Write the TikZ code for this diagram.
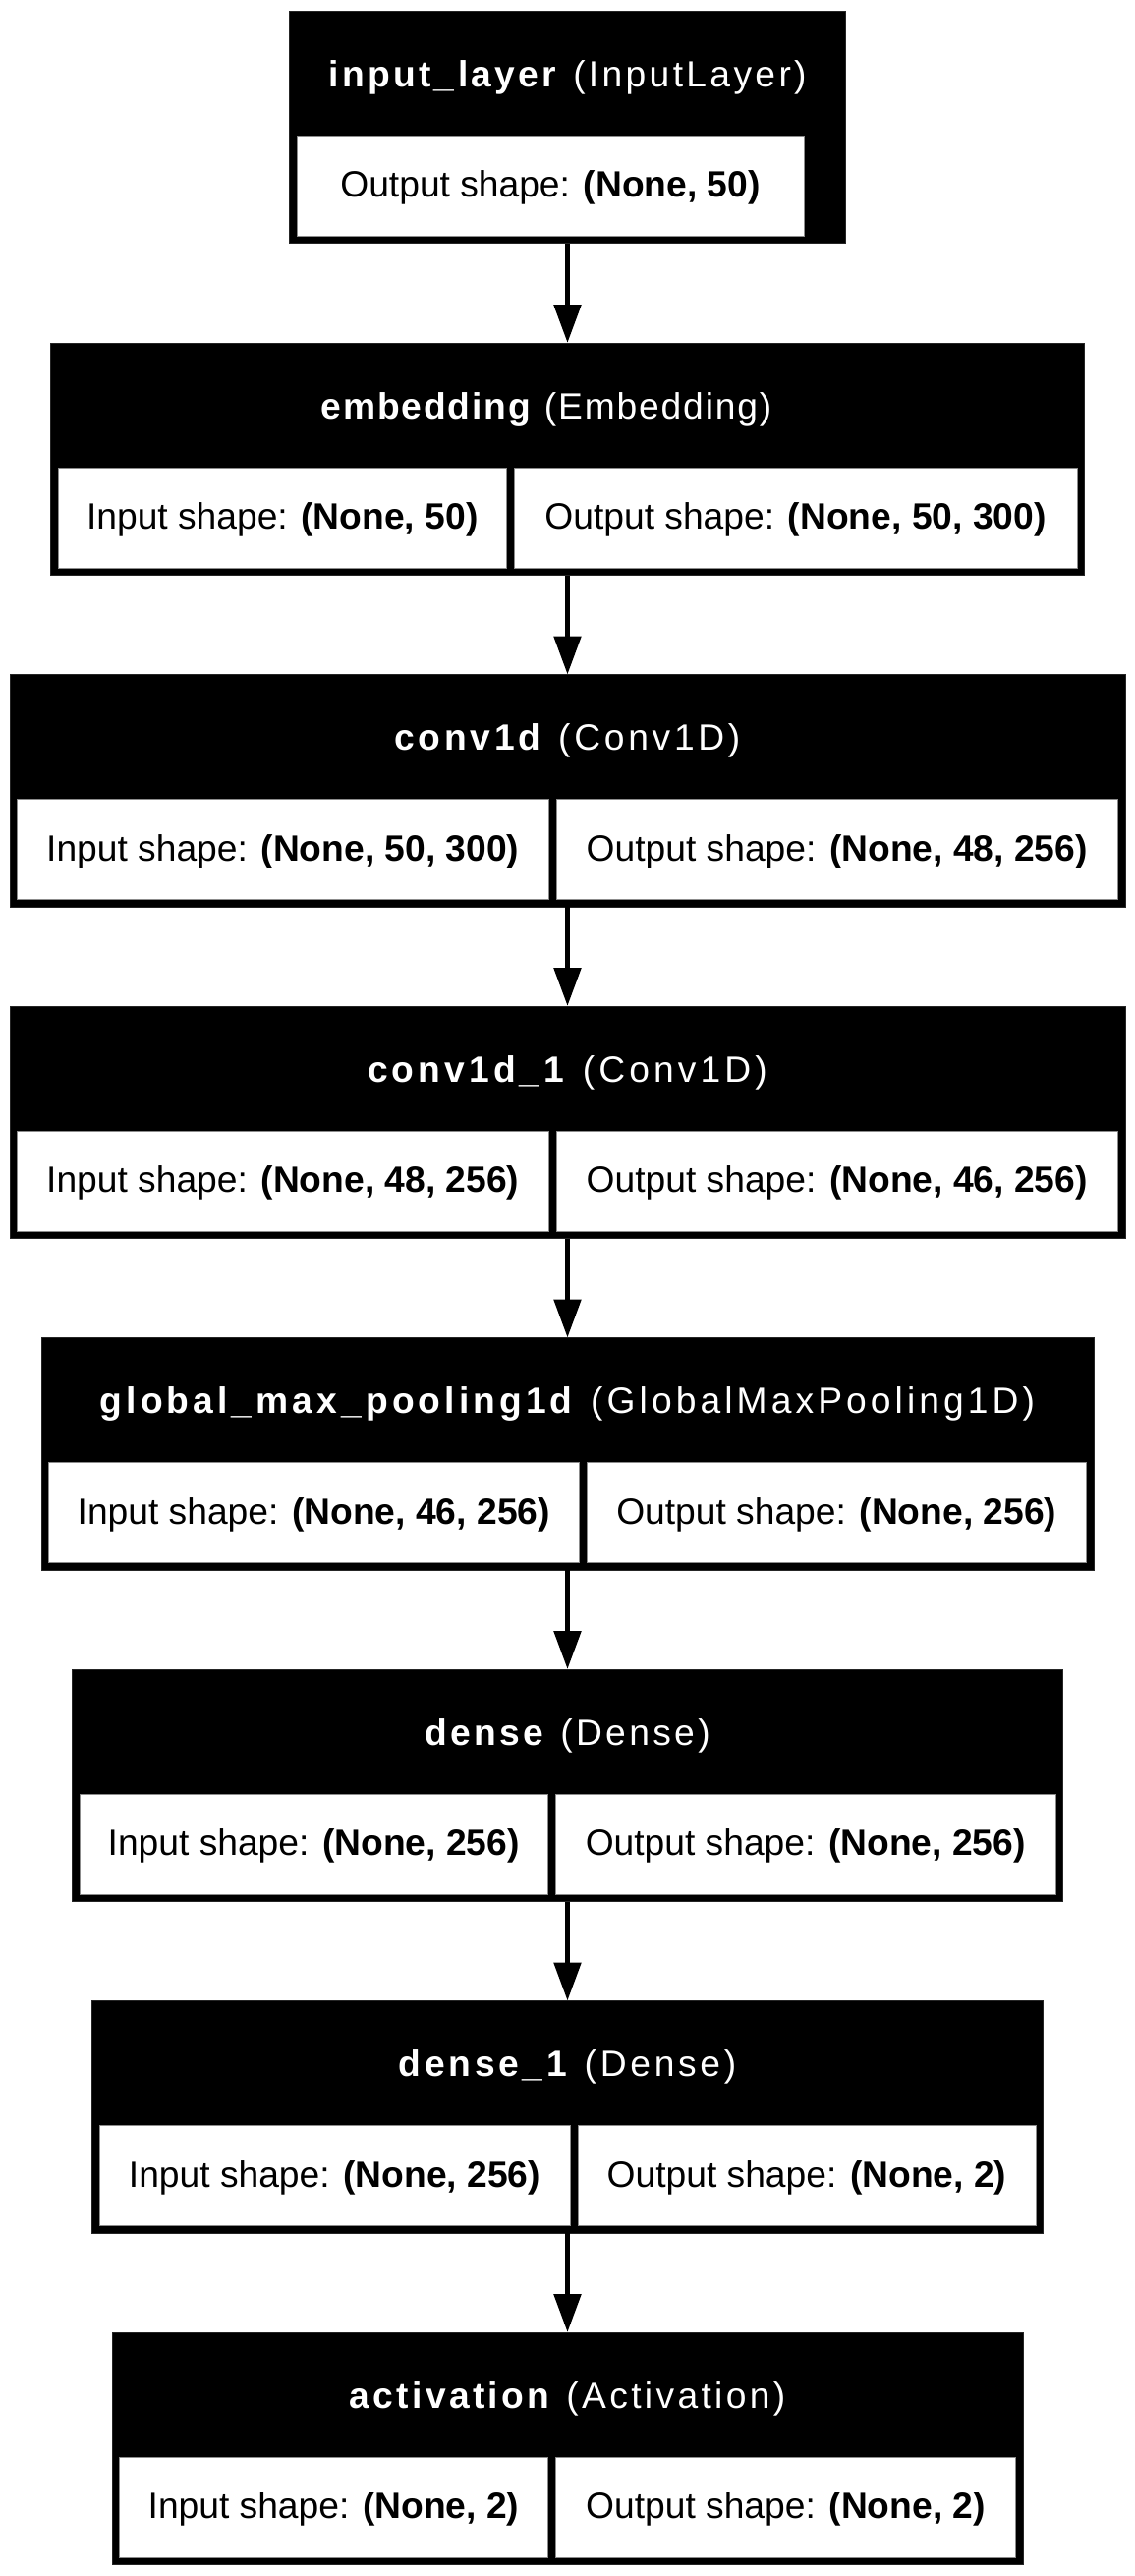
\documentclass[tikz,border=0pt]{standalone}
\usepackage{fontspec}
\setmainfont{Liberation Sans}
\newfontfamily\tfFive{Liberation Sans}[LetterSpace=5]
\newfontfamily\tfNine{Liberation Sans}[LetterSpace=9]
\newfontfamily\tfTen{Liberation Sans}[LetterSpace=10]
\newfontfamily\tfEleven{Liberation Sans}[LetterSpace=11]
\usetikzlibrary{arrows.meta}
\tikzset{
  blockbox/.style={rectangle, fill=black, draw=black!85, line width=1pt, inner sep=0pt, outer sep=0pt, minimum height=236.5pt},
  cellbox/.style={rectangle, fill=white, draw=black!45, line width=1pt, inner sep=0pt, outer sep=0pt, minimum height=102pt,
    text height=30pt, text depth=7pt, font=\fontsize{37.2pt}{44pt}\selectfont},
  titletext/.style={inner sep=0pt, text=white, text height=34pt, text depth=7pt, font=\fontsize{37.2pt}{44pt}\selectfont},
  flow/.style={-{Triangle[length=39pt,width=27pt]}, line width=5.5pt, black}
}
\begin{document}
\begin{tikzpicture}[x=1pt,y=-1pt]
\path[fill=white] (0,0) rectangle (1155,2622);
\useasboundingbox (0,0) rectangle (1155,2622);
% 1 input_layer
\node[blockbox, minimum width=566pt] (b1) at (577.5,129.75) {};
\node[titletext] (t1) at (577.5,75) {\tfNine\textbf{input\_layer} (InputLayer)};
\node[cellbox, minimum width=516pt] (c1) at (560,189.5) {Output shape: \textbf{(None, 50)}};
% 2 embedding
\node[blockbox, minimum width=1052pt] (b2) at (577.5,467.25) {};
\node[titletext] (t2) at (556,412.5) {\tfFive\textbf{embedding} (Embedding)};
\node[cellbox, minimum width=456.5pt] (c2a) at (287.25,527) {Input shape: \textbf{(None, 50)}};
\node[cellbox, minimum width=573pt] (c2b) at (809.5,527) {Output shape: \textbf{(None, 50, 300)}};
% 3 conv1d
\node[blockbox, minimum width=1135pt] (b3) at (577.5,804.75) {};
\node[titletext] (t3) at (577.5,750) {\tfTen\textbf{conv1d} (Conv1D)};
\node[cellbox, minimum width=540.5pt] (c3a) at (287.75,864.5) {Input shape: \textbf{(None, 50, 300)}};
\node[cellbox, minimum width=571.5pt] (c3b) at (851.75,864.5) {Output shape: \textbf{(None, 48, 256)}};
% 4 conv1d_1
\node[blockbox, minimum width=1135pt] (b4) at (577.5,1142.25) {};
\node[titletext] (t4) at (577.5,1087.5) {\tfEleven\textbf{conv1d\_1} (Conv1D)};
\node[cellbox, minimum width=540.5pt] (c4a) at (287.75,1202) {Input shape: \textbf{(None, 48, 256)}};
\node[cellbox, minimum width=571.5pt] (c4b) at (851.75,1202) {Output shape: \textbf{(None, 46, 256)}};
% 5 global_max_pooling1d
\node[blockbox, minimum width=1071pt] (b5) at (577.5,1479.75) {};
\node[titletext] (t5) at (577.5,1425) {\tfEleven\textbf{global\_max\_pooling1d} (GlobalMaxPooling1D)};
\node[cellbox, minimum width=539.5pt] (c5a) at (319.25,1539.5) {Input shape: \textbf{(None, 46, 256)}};
\node[cellbox, minimum width=508.5pt] (c5b) at (851.25,1539.5) {Output shape: \textbf{(None, 256)}};
% 6 dense
\node[blockbox, minimum width=1008pt] (b6) at (577.5,1817.25) {};
\node[titletext] (t6) at (577.5,1762.5) {\tfNine\textbf{dense} (Dense)};
\node[cellbox, minimum width=476.5pt] (c6a) at (319.25,1877) {Input shape: \textbf{(None, 256)}};
\node[cellbox, minimum width=508.5pt] (c6b) at (819.75,1877) {Output shape: \textbf{(None, 256)}};
% 7 dense_1
\node[blockbox, minimum width=968pt] (b7) at (577.5,2154.75) {};
\node[titletext] (t7) at (577.5,2100) {\tfTen\textbf{dense\_1} (Dense)};
\node[cellbox, minimum width=479pt] (c7a) at (340.5,2214.5) {Input shape: \textbf{(None, 256)}};
\node[cellbox, minimum width=466pt] (c7b) at (821,2214.5) {Output shape: \textbf{(None, 2)}};
% 8 activation
\node[blockbox, minimum width=927pt] (b8) at (577.5,2492.25) {};
\node[titletext] (t8) at (577.5,2437.5) {\tfNine\textbf{activation} (Activation)};
\node[cellbox, minimum width=436pt] (c8a) at (339.5,2552) {Input shape: \textbf{(None, 2)}};
\node[cellbox, minimum width=468pt] (c8b) at (799.5,2552) {Output shape: \textbf{(None, 2)}};
% connectors
\draw[flow] (b1.south) -- (b2.north);
\draw[flow] (b2.south) -- (b3.north);
\draw[flow] (b3.south) -- (b4.north);
\draw[flow] (b4.south) -- (b5.north);
\draw[flow] (b5.south) -- (b6.north);
\draw[flow] (b6.south) -- (b7.north);
\draw[flow] (b7.south) -- (b8.north);
\end{tikzpicture}
\end{document}
